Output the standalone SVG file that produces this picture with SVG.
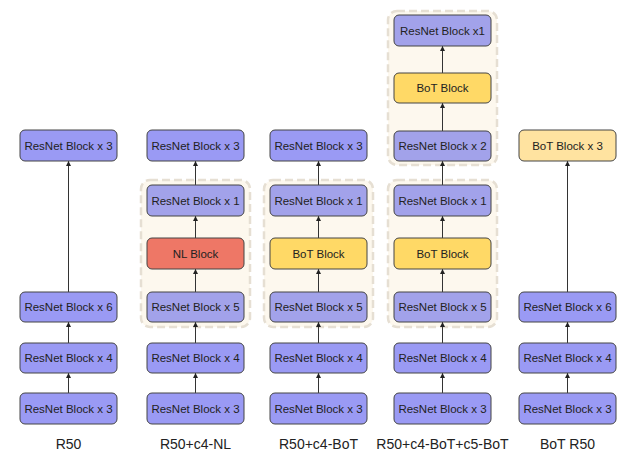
<svg xmlns="http://www.w3.org/2000/svg" width="627" height="464" viewBox="0 0 627 464">
<style>
.bg{fill:#ffffff}
.grp{fill:#fdf8ee;stroke:#e6dfd3;stroke-width:2.5;stroke-dasharray:8 4}
.box{stroke:#444;stroke-width:1}
.rn{fill:#9a9af4}
.rni{fill:#a2a2ea}
.nl{fill:#ee7766}
.bot{fill:#ffd966}
.botl{fill:#ffe3a0}
.t{font-family:"Liberation Sans",Arial,sans-serif;font-size:11.5px;fill:#222;text-anchor:middle}
.lbl{font-family:"Liberation Sans",Arial,sans-serif;font-size:14px;fill:#222;text-anchor:middle}
.c{stroke:#333;stroke-width:1;fill:none;marker-end:url(#ah)}
</style>
<defs>
<marker id="ah" markerWidth="6" markerHeight="6" refX="5" refY="3" orient="auto" markerUnits="userSpaceOnUse">
<path d="M0,0.5 L5,3 L0,5.5 Z" fill="#222"/>
</marker>
</defs>
<rect class="bg" x="0" y="0" width="627" height="464"/>
<g id="groups">
<rect class="grp" x="141" y="180" width="109" height="147" rx="9"/>
<rect class="grp" x="264" y="180" width="109" height="147" rx="9"/>
<rect class="grp" x="388" y="180" width="109" height="147" rx="9"/>
<rect class="grp" x="388" y="11" width="109" height="154" rx="9"/>
</g>
<g id="connectors">
<line class="c" x1="68.5" y1="393" x2="68.5" y2="373"/>
<line class="c" x1="68.5" y1="343" x2="68.5" y2="322"/>
<line class="c" x1="68.5" y1="292" x2="68.5" y2="161"/>
<line class="c" x1="195.5" y1="393" x2="195.5" y2="373"/>
<line class="c" x1="195.5" y1="343" x2="195.5" y2="322"/>
<line class="c" x1="195.5" y1="292" x2="195.5" y2="269"/>
<line class="c" x1="195.5" y1="238" x2="195.5" y2="216"/>
<line class="c" x1="195.5" y1="185" x2="195.5" y2="161"/>
<line class="c" x1="318.5" y1="393" x2="318.5" y2="373"/>
<line class="c" x1="318.5" y1="343" x2="318.5" y2="322"/>
<line class="c" x1="318.5" y1="292" x2="318.5" y2="269"/>
<line class="c" x1="318.5" y1="238" x2="318.5" y2="216"/>
<line class="c" x1="318.5" y1="185" x2="318.5" y2="161"/>
<line class="c" x1="442.5" y1="393" x2="442.5" y2="373"/>
<line class="c" x1="442.5" y1="343" x2="442.5" y2="322"/>
<line class="c" x1="442.5" y1="292" x2="442.5" y2="269"/>
<line class="c" x1="442.5" y1="238" x2="442.5" y2="216"/>
<line class="c" x1="442.5" y1="185" x2="442.5" y2="161"/>
<line class="c" x1="442.5" y1="131" x2="442.5" y2="103"/>
<line class="c" x1="442.5" y1="73" x2="442.5" y2="46"/>
<line class="c" x1="567.5" y1="393" x2="567.5" y2="373"/>
<line class="c" x1="567.5" y1="343" x2="567.5" y2="322"/>
<line class="c" x1="567.5" y1="292" x2="567.5" y2="161"/>
</g>
<g id="r50">
<g id="r50-a"><rect class="box rn" x="20" y="393" width="97" height="31" rx="5"/><text class="t" x="68.5" y="412.5">ResNet Block x 3</text></g>
<g id="r50-b"><rect class="box rn" x="20" y="343" width="97" height="30" rx="5"/><text class="t" x="68.5" y="362">ResNet Block x 4</text></g>
<g id="r50-c"><rect class="box rn" x="20" y="292" width="97" height="30" rx="5"/><text class="t" x="68.5" y="311">ResNet Block x 6</text></g>
<g id="r50-d"><rect class="box rn" x="20" y="130" width="97" height="31" rx="5"/><text class="t" x="68.5" y="149.5">ResNet Block x 3</text></g>
<text class="lbl" x="68.5" y="449">R50</text>
</g>
<g id="nl">
<g id="nl-a"><rect class="box rn" x="147" y="393" width="97" height="31" rx="5"/><text class="t" x="195.5" y="412.5">ResNet Block x 3</text></g>
<g id="nl-b"><rect class="box rn" x="147" y="343" width="97" height="30" rx="5"/><text class="t" x="195.5" y="362">ResNet Block x 4</text></g>
<g id="nl-c"><rect class="box rni" x="147" y="292" width="97" height="30" rx="5"/><text class="t" x="195.5" y="311">ResNet Block x 5</text></g>
<g id="nl-d"><rect class="box nl" x="147" y="238" width="97" height="31" rx="5"/><text class="t" x="195.5" y="257.5">NL Block</text></g>
<g id="nl-e"><rect class="box rni" x="147" y="185" width="97" height="31" rx="5"/><text class="t" x="195.5" y="204.5">ResNet Block x 1</text></g>
<g id="nl-f"><rect class="box rn" x="147" y="130" width="97" height="31" rx="5"/><text class="t" x="195.5" y="149.5">ResNet Block x 3</text></g>
<text class="lbl" x="195.5" y="449">R50+c4-NL</text>
</g>
<g id="c4bot">
<g id="c4-a"><rect class="box rn" x="270" y="393" width="97" height="31" rx="5"/><text class="t" x="318.5" y="412.5">ResNet Block x 3</text></g>
<g id="c4-b"><rect class="box rn" x="270" y="343" width="97" height="30" rx="5"/><text class="t" x="318.5" y="362">ResNet Block x 4</text></g>
<g id="c4-c"><rect class="box rni" x="270" y="292" width="97" height="30" rx="5"/><text class="t" x="318.5" y="311">ResNet Block x 5</text></g>
<g id="c4-d"><rect class="box bot" x="270" y="238" width="97" height="31" rx="5"/><text class="t" x="318.5" y="257.5">BoT Block</text></g>
<g id="c4-e"><rect class="box rni" x="270" y="185" width="97" height="31" rx="5"/><text class="t" x="318.5" y="204.5">ResNet Block x 1</text></g>
<g id="c4-f"><rect class="box rn" x="270" y="130" width="97" height="31" rx="5"/><text class="t" x="318.5" y="149.5">ResNet Block x 3</text></g>
<text class="lbl" x="318.5" y="449">R50+c4-BoT</text>
</g>
<g id="c5bot">
<g id="c5-a"><rect class="box rn" x="394" y="393" width="97" height="31" rx="5"/><text class="t" x="442.5" y="412.5">ResNet Block x 3</text></g>
<g id="c5-b"><rect class="box rn" x="394" y="343" width="97" height="30" rx="5"/><text class="t" x="442.5" y="362">ResNet Block x 4</text></g>
<g id="c5-c"><rect class="box rni" x="394" y="292" width="97" height="30" rx="5"/><text class="t" x="442.5" y="311">ResNet Block x 5</text></g>
<g id="c5-d"><rect class="box bot" x="394" y="238" width="97" height="31" rx="5"/><text class="t" x="442.5" y="257.5">BoT Block</text></g>
<g id="c5-e"><rect class="box rni" x="394" y="185" width="97" height="31" rx="5"/><text class="t" x="442.5" y="204.5">ResNet Block x 1</text></g>
<g id="c5-f"><rect class="box rni" x="394" y="131" width="97" height="30" rx="5"/><text class="t" x="442.5" y="150">ResNet Block x 2</text></g>
<g id="c5-g"><rect class="box bot" x="394" y="73" width="97" height="30" rx="5"/><text class="t" x="442.5" y="92">BoT Block</text></g>
<g id="c5-h"><rect class="box rni" x="394" y="15" width="97" height="31" rx="5"/><text class="t" x="442.5" y="34.5">ResNet Block x1</text></g>
<text class="lbl" x="442.5" y="449">R50+c4-BoT+c5-BoT</text>
</g>
<g id="botr50">
<g id="b-a"><rect class="box rn" x="519" y="393" width="97" height="31" rx="5"/><text class="t" x="567.5" y="412.5">ResNet Block x 3</text></g>
<g id="b-b"><rect class="box rn" x="519" y="343" width="97" height="30" rx="5"/><text class="t" x="567.5" y="362">ResNet Block x 4</text></g>
<g id="b-c"><rect class="box rn" x="519" y="292" width="97" height="30" rx="5"/><text class="t" x="567.5" y="311">ResNet Block x 6</text></g>
<g id="b-d"><rect class="box botl" x="519" y="130" width="97" height="31" rx="5"/><text class="t" x="567.5" y="149.5">BoT Block x 3</text></g>
<text class="lbl" x="567.5" y="449">BoT R50</text>
</g>
</svg>
